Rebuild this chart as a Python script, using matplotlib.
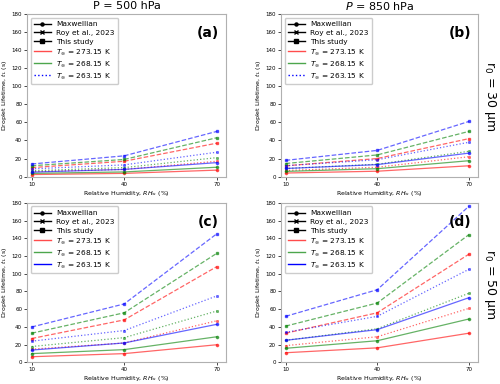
import numpy as np
import matplotlib
matplotlib.use('Agg')
import matplotlib.pyplot as plt
from matplotlib.lines import Line2D

# Relative humidity (%)
rh = [10, 40, 70]

# Droplet lifetime (s); keys: T
# panel (a): P = 500 hPa, r0 = 30 um
a_study = {'273.15': [10, 17, 37], '268.15': [12, 19, 43], '263.15': [14, 23, 50]}
a_roy = {'273.15': [5.5, 8, 17], '268.15': [6.5, 10, 21], '263.15': [8.6, 13, 27]}
a_max = {'273.15': [2.3, 3.6, 7.2], '268.15': [3.6, 5.2, 10.4], '263.15': [5, 8, 15.5]}
# panel (b): P = 850 hPa, r0 = 30 um
b_study = {'273.15': [12, 20, 42], '268.15': [14.5, 24, 50], '263.15': [18, 29, 61]}
b_roy = {'273.15': [6.8, 10.4, 22], '268.15': [9, 13.7, 28], '263.15': [12, 18.7, 38]}
b_max = {'273.15': [4, 6, 12], '268.15': [5.8, 8.8, 17.6], '263.15': [9, 13.3, 26]}
# panel (c): P = 500 hPa, r0 = 50 um
c_study = {'273.15': [27, 48, 108], '268.15': [33, 56, 123], '263.15': [40, 66, 145]}
c_roy = {'273.15': [15, 22, 47], '268.15': [18, 28, 58], '263.15': [24, 36, 75]}
c_max = {'273.15': [6.5, 10, 20], '268.15': [10, 14.5, 29], '263.15': [14, 22, 43]}
# panel (d): P = 850 hPa, r0 = 50 um
d_study = {'273.15': [33, 56, 122], '268.15': [41, 67, 144], '263.15': [52, 82, 176]}
d_roy = {'273.15': [19, 29, 61], '268.15': [25, 38, 78], '263.15': [34, 52, 105]}
d_max = {'273.15': [11, 16.5, 33], '268.15': [16, 24.5, 49], '263.15': [25, 37, 73]}

temps = ['273.15', '268.15', '263.15']
colors = {'273.15': 'red', '268.15': 'green', '263.15': 'blue'}

panels = [
    ('(a)', [0.054, 0.540, 0.398, 0.424], a_max, a_roy, a_study),
    ('(b)', [0.562, 0.540, 0.394, 0.424], b_max, b_roy, b_study),
    ('(c)', [0.054, 0.056, 0.398, 0.416], c_max, c_roy, c_study),
    ('(d)', [0.562, 0.056, 0.394, 0.416], d_max, d_roy, d_study),
]

fig = plt.figure(figsize=(5.0, 3.84), dpi=100)

for k, (lab, pos, mx, roy, st) in enumerate(panels):
    ax = fig.add_axes(pos)
    for T in temps:
        c = colors[T]
        ax.plot(rh, mx[T], '-', color=c, marker='o', ms=1.6, lw=0.9, alpha=0.6)
        ax.plot(rh, roy[T], ':', color=c, marker='x', ms=1.6, lw=0.9, alpha=0.6)
        ax.plot(rh, st[T], '--', color=c, marker='s', ms=1.6, lw=0.9, alpha=0.6)
    ax.set_xlim(8.5, 73)
    ax.set_ylim(0, 180)
    ax.set_xticks(rh)
    ax.set_yticks(np.arange(0, 181, 20))
    ax.tick_params(labelsize=4, length=2, width=0.5, pad=1.5)
    for s in ax.spines.values():
        s.set_color('#b0b0b0')
        s.set_linewidth(0.8)
    ax.set_xlabel(r'Relative Humidity, $RH_\infty$ (%)', fontsize=4.5, labelpad=1.5)
    ax.set_ylabel(r'Droplet Lifetime, $t_L$ (s)', fontsize=4.5, labelpad=2)
    ax.text(0.965, 0.88, lab, transform=ax.transAxes, ha='right', va='center',
            fontsize=10, fontweight='bold')

    handles = [
        Line2D([], [], color='k', marker='o', ms=2.2, lw=1),
        Line2D([], [], color='k', marker='x', ms=2.2, lw=1),
        Line2D([], [], color='k', marker='s', ms=2.2, lw=1),
        Line2D([], [], color='red', lw=1, alpha=0.7),
        Line2D([], [], color='green', lw=1, alpha=0.7),
        Line2D([], [], color='blue', lw=1, ls=':' if k < 2 else '-'),
    ]
    labels = ['Maxwellian', 'Roy et al., 2023', 'This study',
              r'$T_\infty$ = 273.15 K', r'$T_\infty$ = 268.15 K',
              r'$T_\infty$ = 263.15 K']
    ax.legend(handles, labels, loc='upper left', fontsize=5.3,
              handlelength=2.2, borderpad=0.5, labelspacing=0.35,
              framealpha=1, edgecolor='#cccccc', fancybox=True)

fig.text(0.253, 0.985, 'P = 500 hPa', ha='center', va='center', fontsize=8)
fig.text(0.759, 0.985, r'$P$ = 850 hPa', ha='center', va='center', fontsize=8)
fig.text(0.98, 0.75, r'r$_0$ = 30 μm', rotation=270, ha='center', va='center', fontsize=9)
fig.text(0.98, 0.26, r'r$_0$ = 50 μm', rotation=270, ha='center', va='center', fontsize=9)

fig.savefig('out.png', dpi=100)
